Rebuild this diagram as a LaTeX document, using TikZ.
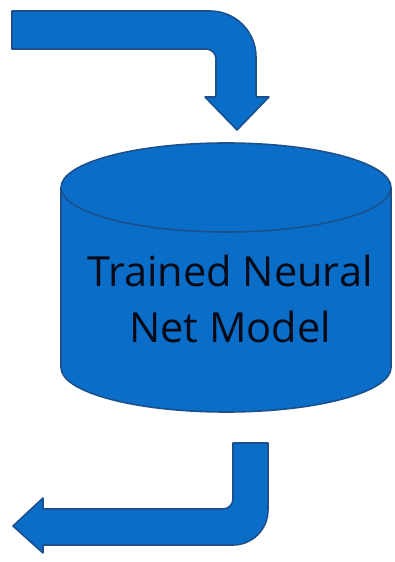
\documentclass[tikz,border=0pt]{standalone}
\usepackage{fontspec}
\setmainfont{Open Sans}
\definecolor{boxfill}{RGB}{10,110,200}
\definecolor{boxline}{RGB}{28,80,140}
\definecolor{txt}{RGB}{8,10,24}
\begin{document}
\begin{tikzpicture}[x=1pt,y=1pt,
  shapefill/.style={fill=boxfill,draw=boxline,line width=1.6pt,line join=round},
  lbl/.style={anchor=base,text=txt,font=\fontsize{41.5}{48}\selectfont,inner sep=0pt}]
\useasboundingbox (0,0) rectangle (395,562);
% top bent arrow
\path[shapefill] (12,551) -- (210,551) .. controls (235.4,551) and (256,530.4) .. (256,505)
  -- (256,465) -- (269,465) -- (237,432) -- (205,465) -- (216,465) -- (216,503)
  .. controls (216,508.5) and (211.5,513) .. (206,513) -- (12,513) -- cycle;
% cylinder
\path[shapefill] (61,374.5) -- (61,194.5) arc[start angle=180,end angle=360,x radius=165,y radius=44.5]
  -- (391,374.5) arc[start angle=0,end angle=180,x radius=165,y radius=44.5] -- cycle;
\draw[boxline,line width=1.6pt] (61,374.5) arc[start angle=180,end angle=360,x radius=165,y radius=44.5];
\node[lbl] (l1) at (230,275) {Trained Neural};
\node[lbl] (l2) at (230,219) {Net Model};
% bottom bent arrow
\path[shapefill] (233,119) -- (268,119) -- (268,52) .. controls (268,32.7) and (252.3,17) .. (233,17)
  -- (43,17) -- (43,9) -- (13,36) -- (43,64) -- (43,53) -- (223,53)
  .. controls (228.5,53) and (233,57.5) .. (233,63) -- cycle;
\end{tikzpicture}
\end{document}
